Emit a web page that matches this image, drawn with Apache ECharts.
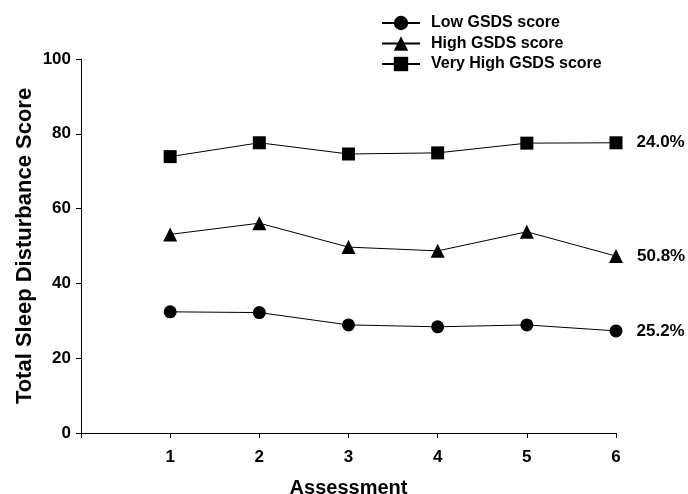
<!DOCTYPE html>
<html style="height: 100%">
<head>
    <meta charset="utf-8">
</head>
<body style="height: 100%; margin: 0; background: #fff">
<div id="container" style="width: 688px; height: 494px"></div>

<script type="text/javascript" src="https://cdn.jsdelivr.net/npm/echarts@6/dist/echarts.min.js"></script>
<script type="text/javascript">
    // 数据
    var assessments = [1, 2, 3, 4, 5, 6];
    var lowScore = [32.4, 32.2, 28.9, 28.4, 28.9, 27.3];
    var highScore = [53.1, 56.1, 49.7, 48.7, 53.8, 47.3];
    var veryHighScore = [73.9, 77.6, 74.6, 74.9, 77.5, 77.6];
    var seriesNames = ['Low GSDS score', 'High GSDS score', 'Very High GSDS score'];
    var endPercents = ['25.2%', '50.8%', '24.0%'];
    var yTicks = [0, 20, 40, 60, 80, 100];

    var font = "'Liberation Sans', Arial, sans-serif";

    var dom = document.getElementById('container');
    var myChart = echarts.init(dom, null, {renderer: 'canvas'});

    function makeData(values, pct) {
        return values.map(function (v, i) {
            var item = {value: [assessments[i], v]};
            if (i === values.length - 1) {
                item.label = {
                    show: true,
                    position: 'right',
                    distance: 14,
                    formatter: pct,
                    color: '#000',
                    fontFamily: font,
                    fontWeight: 'bold',
                    fontSize: 17
                };
            }
            return item;
        });
    }

    function makeSeries(name, values, symbol, pct) {
        return {
            name: name,
            type: 'line',
            symbol: symbol,
            symbolSize: symbol === 'triangle' ? 14 : 13,
            showAllSymbol: true,
            color: '#000',
            lineStyle: {color: '#000', width: 1},
            itemStyle: {color: '#000'},
            emphasis: {disabled: true},
            data: makeData(values, pct)
        };
    }

    var option = {
        animation: false,
        backgroundColor: '#fff',
        grid: {left: 81, right: 72, top: 59, bottom: 61, outerBoundsMode: 'none'},
        legend: {
            orient: 'vertical',
            left: 376,
            top: 10,
            itemWidth: 38,
            itemHeight: 18,
            itemGap: 4.5,
            textStyle: {
                color: '#000',
                fontFamily: font,
                fontWeight: 'bold',
                fontSize: 16,
                padding: [0, 0, 0, 6]
            },
            data: seriesNames
        },
        xAxis: {
            type: 'value',
            min: 0,
            max: 6,
            interval: 1,
            name: 'Assessment',
            nameLocation: 'middle',
            nameGap: 45,
            nameMoveOverlap: false,
            nameTextStyle: {color: '#000', fontFamily: font, fontWeight: 'bold', fontSize: 20},
            axisLine: {show: true, lineStyle: {color: '#000', width: 1}},
            axisTick: {show: true, length: 5, lineStyle: {color: '#000'}},
            splitLine: {show: false},
            axisLabel: {
                color: '#000',
                fontFamily: font,
                fontWeight: 'bold',
                fontSize: 17,
                margin: 16,
                formatter: function (v) { return v === 0 ? '' : String(v); }
            }
        },
        yAxis: {
            type: 'value',
            min: yTicks[0],
            max: yTicks[yTicks.length - 1],
            interval: 20,
            name: 'Total Sleep Disturbance Score',
            nameLocation: 'middle',
            nameGap: 45,
            nameMoveOverlap: false,
            nameTextStyle: {color: '#000', fontFamily: font, fontWeight: 'bold', fontSize: 22},
            axisLine: {show: true, lineStyle: {color: '#000', width: 1}},
            axisTick: {show: true, length: 5, lineStyle: {color: '#000'}},
            splitLine: {show: false},
            axisLabel: {
                color: '#000',
                fontFamily: font,
                fontWeight: 'bold',
                fontSize: 17,
                margin: 10
            }
        },
        series: [
            makeSeries(seriesNames[0], lowScore, 'circle', endPercents[0]),
            makeSeries(seriesNames[1], highScore, 'triangle', endPercents[1]),
            makeSeries(seriesNames[2], veryHighScore, 'rect', endPercents[2])
        ]
    };

    myChart.setOption(option);
    window.addEventListener('resize', myChart.resize);
</script>
</body>
</html>
